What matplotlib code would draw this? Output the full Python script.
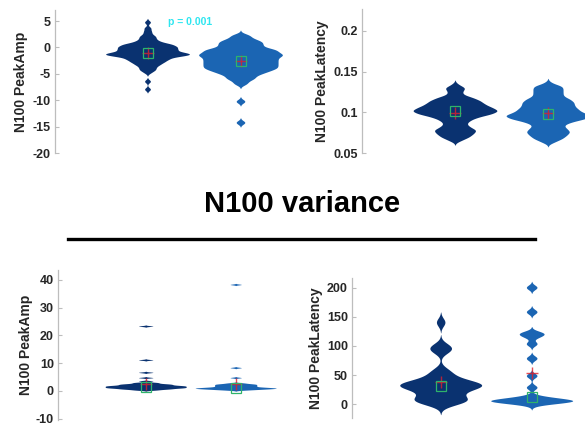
import numpy as np
import matplotlib
matplotlib.use("Agg")
import matplotlib.pyplot as plt

# ---------------- data ----------------
group_names = ["Group 1", "Group 2"]

# Top-left: N100 PeakAmp (value, count)
amp_g1_vals = [4.7, 3.6, 3.0, 2.5, 2.0, 1.5, 1.0, 0.5, 0.0, -0.5, -1.0, -1.4, -1.8,
               -2.3, -2.8, -3.3, -3.8, -4.3, -4.8, -6.5, -8.0]
amp_g1_counts = [1, 1, 1, 1, 2, 2, 3, 6, 7, 7, 7, 9, 6, 5, 4, 3, 2, 2, 1, 1, 1]
amp_g2_vals = [2.3, 2.0, 1.5, 1.0, 0.5, 0.0, -0.5, -1.0, -1.5, -2.0, -2.5, -3.0, -3.5,
               -4.0, -4.5, -5.0, -5.5, -6.0, -6.5, -7.0, -10.3, -14.3]
amp_g2_counts = [1, 1, 2, 3, 3, 3, 5, 5, 6, 5, 5, 5, 5, 5, 4, 3, 2, 2, 1, 1, 1, 1]

# Top-right: N100 PeakLatency (s)
lat_g1_vals = [0.066, 0.070, 0.074, 0.078, 0.082, 0.086, 0.090, 0.094, 0.098, 0.102,
               0.106, 0.110, 0.114, 0.118, 0.122, 0.126, 0.130, 0.134]
lat_g1_counts = [2, 4, 5, 6, 4, 3, 4, 6, 10, 12, 10, 8, 7, 5, 2, 2, 3, 1]
lat_g2_vals = [0.064, 0.068, 0.072, 0.076, 0.080, 0.084, 0.088, 0.092, 0.096, 0.100,
               0.104, 0.108, 0.112, 0.116, 0.120, 0.124, 0.128, 0.132, 0.136]
lat_g2_counts = [2, 4, 5, 6, 5, 4, 6, 10, 12, 9, 8, 7, 7, 6, 4, 4, 4, 4, 1]

# Bottom-left: N100 PeakAmp variance
vamp_g1_vals = [0.1, 0.3, 0.5, 0.7, 0.9, 1.1, 1.3, 1.5, 1.7, 1.9, 2.1, 2.3, 2.5, 2.7,
                2.9, 3.4, 4.6, 6.5, 11.0, 23.2]
vamp_g1_counts = [1, 1, 2, 2, 3, 3, 3, 3, 3, 2, 2, 2, 1, 1, 1, 1, 1, 1, 1, 1]
vamp_g2_vals = [0.1, 0.3, 0.5, 0.7, 0.9, 1.1, 1.3, 1.5, 1.7, 1.9, 2.1, 2.3, 2.5, 2.7,
                4.6, 8.2, 38.2]
vamp_g2_counts = [1, 2, 3, 4, 4, 3, 2, 2, 2, 2, 2, 2, 1, 1, 1, 1, 1]

# Bottom-right: N100 PeakLatency variance
vlat_g1_vals = [0, 2, 4, 6, 8, 10, 14, 18, 22, 25, 27, 28, 30, 31, 33, 34, 35, 36, 38,
                42, 46, 52, 58, 90, 95, 100, 140]
vlat_g1_counts = [1] * 27
vlat_g2_vals = [0, 2, 3, 4, 5, 6, 7, 9, 12, 28, 48, 78, 103, 115, 120, 122, 158, 200]
vlat_g2_counts = [1, 1, 1, 1, 2, 1, 1, 1, 1, 1, 1, 1, 1, 1, 1, 1, 1, 1]

amp_ticks = [-20, -15, -10, -5, 0, 5]
lat_ticks = [0.05, 0.1, 0.15, 0.2]
lat_ticklabels = ["0.05", "0.1", "0.15", "0.2"]
vamp_ticks = [-10, 0, 10, 20, 30, 40]
vlat_ticks = [0, 50, 100, 150, 200]

amp_label = "N100 PeakAmp"
lat_label = "N100 PeakLatency"
p_text = "p = 0.001"
title_text = "N100 variance"

# ---------------- style ----------------
plt.rcParams['font.family'] = ['Liberation Sans', 'DejaVu Sans']
DARK = '#0a3270'
LIGHT = '#1b65b3'
GREEN = '#2fb36b'
RED = '#e0202a'
SPINE = '#bdbdbd'
TXT = '#262626'

fig = plt.figure(figsize=(5.85, 4.26), dpi=100)
W, H = 585.0, 426.0


def make_ax(left, top, bottom, xscale_px, xlo):
    width_units = 3.0 - xlo
    ax = fig.add_axes([left / W, 1 - bottom / H, width_units * xscale_px / W,
                       (bottom - top) / H])
    ax.set_xlim(xlo, 3.0)
    ax.patch.set_alpha(0)
    for s in ['top', 'right', 'bottom']:
        ax.spines[s].set_visible(False)
    ax.spines['left'].set_color(SPINE)
    ax.spines['left'].set_linewidth(0.9)
    ax.set_xticks([])
    ax.tick_params(axis='y', direction='in', length=3, width=0.8, color=SPINE,
                   labelsize=9, labelcolor=TXT, pad=3)
    return ax


def violin(ax, vals, counts, pos, h, color):
    data = np.repeat(np.asarray(vals, float), counts)
    lo, hi = data.min() - 3.5 * h, data.max() + 3.5 * h
    grid = np.linspace(lo, hi, 3000)
    dens = np.exp(-0.5 * ((grid[:, None] - data[None, :]) / h) ** 2).sum(axis=1)
    dens = dens / dens.max() * 0.45
    ax.fill_betweenx(grid, pos - dens, pos + dens, where=dens > 0.002,
                     color=color, lw=0, zorder=2)
    med = np.median(data)
    mean = data.mean()
    ax.plot(pos, mean, marker='+', ms=8, mew=1.0, color=RED, alpha=0.8, zorder=3)
    ax.plot(pos, med, marker='s', ms=6.5, mfc='none', mec=GREEN, mew=0.9, zorder=4)


def finish(ax, ticks, labels, ylabel, labx):
    ax.set_yticks(ticks)
    ax.set_yticklabels(labels if labels is not None else [str(t) for t in ticks],
                       fontweight='bold')
    ax.set_ylabel(ylabel, fontsize=10, fontweight='bold', color=TXT)
    ax.yaxis.set_label_coords(labx, 0.5)


# top-left
ax1 = make_ax(55, 10, 153, 93, 0.0)
ax1.set_ylim(-20, 7.1)
violin(ax1, amp_g1_vals, amp_g1_counts, 1, 0.3, DARK)
violin(ax1, amp_g2_vals, amp_g2_counts, 2, 0.35, LIGHT)
finish(ax1, amp_ticks, None, amp_label, -0.097)
ax1.text(1.45, 4.8, p_text, color='#2fe6f0', fontsize=7.5, fontweight='bold',
         ha='center', va='center')

# top-right
ax2 = make_ax(362, 9, 153, 93, 0.0)
ax2.set_ylim(0.05, 0.227)
violin(ax2, lat_g1_vals, lat_g1_counts, 1, 0.0025, DARK)
violin(ax2, lat_g2_vals, lat_g2_counts, 2, 0.0025, LIGHT)
finish(ax2, lat_ticks, lat_ticklabels, lat_label, -0.118)

# bottom-left
ax3 = make_ax(58, 270, 420, 90, 0.02)
ax3.set_ylim(-10.5, 43.6)
violin(ax3, vamp_g1_vals, vamp_g1_counts, 1, 0.15, DARK)
violin(ax3, vamp_g2_vals, vamp_g2_counts, 2, 0.15, LIGHT)
finish(ax3, vamp_ticks, None, amp_label, -0.093)

# bottom-right
ax4 = make_ax(352, 278, 418, 91, 0.02)
ax4.set_ylim(-24, 217)
violin(ax4, vlat_g1_vals, vlat_g1_counts, 1, 7.0, DARK)
violin(ax4, vlat_g2_vals, vlat_g2_counts, 2, 4.0, LIGHT)
finish(ax4, vlat_ticks, None, lat_label, -0.108)

# middle title and separator
fig.text(302 / W, 1 - 204 / H, title_text, fontsize=21, fontweight='bold',
         ha='center', va='center', color='black')
fig.add_artist(plt.Line2D([68 / W, 535 / W], [1 - 238.5 / H, 1 - 238.5 / H],
                          color='black', lw=2.4, transform=fig.transFigure))

fig.savefig('out.png', dpi=100)
